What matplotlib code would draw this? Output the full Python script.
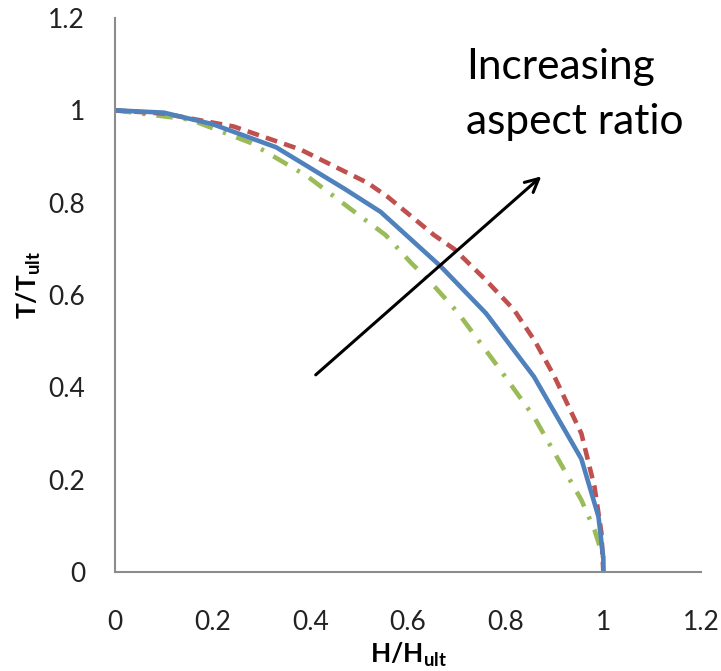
import matplotlib
matplotlib.use("Agg")
import matplotlib.pyplot as plt

# curves (H/Hult, T/Tult)
h_blue = [0, 0.1, 0.2, 0.33, 0.47, 0.544, 0.667, 0.76, 0.858, 0.955, 0.99, 1.0, 1.0]
t_blue = [1, 0.995, 0.97, 0.92, 0.83, 0.78, 0.662, 0.56, 0.423, 0.245, 0.12, 0.03, 0]

h_red = [0, 0.1, 0.243, 0.38, 0.517, 0.558, 0.653, 0.694, 0.757, 0.817, 0.86,
         0.9, 0.955, 0.982, 0.996, 1.0]
t_red = [1, 0.993, 0.965, 0.915, 0.843, 0.813, 0.73, 0.70, 0.635, 0.568, 0.5,
         0.423, 0.30, 0.184, 0.085, 0]

h_green = [0, 0.154, 0.277, 0.394, 0.503, 0.554, 0.606, 0.647, 0.702, 0.784,
           0.858, 0.92, 0.955, 0.982, 1.0]
t_green = [1, 0.98, 0.93, 0.857, 0.77, 0.73, 0.67, 0.627, 0.562, 0.445,
           0.336, 0.221, 0.156, 0.091, 0.03]

xticks = [0, 0.2, 0.4, 0.6, 0.8, 1, 1.2]
yticks = [0, 0.2, 0.4, 0.6, 0.8, 1, 1.2]
tick_labels = ["0", "0.2", "0.4", "0.6", "0.8", "1", "1.2"]

plt.rcParams['font.family'] = ['Lato', 'DejaVu Sans']
plt.rcParams['mathtext.fontset'] = 'custom'
plt.rcParams['mathtext.rm'] = 'Lato'
plt.rcParams['mathtext.bf'] = 'Lato:bold'

fig = plt.figure(figsize=(7.21, 6.71), dpi=100)
ax = fig.add_axes([115/721, 1 - 572/671, 586/721, 554/671])

ax.plot(h_green, t_green, color="#9BBB59", lw=3.3,
        linestyle=(0, (3.6, 2.4, 0.7, 2.4)))
ax.plot(h_red, t_red, color="#C0504D", lw=3.3, linestyle=(0, (2.6, 1.6)))
ax.plot(h_blue, t_blue, color="#4F81BD", lw=3.3)

ax.annotate("", xy=(0.873, 0.857), xytext=(0.411, 0.427),
            arrowprops=dict(arrowstyle="->", color="black", lw=2.2,
                            mutation_scale=24, shrinkA=0, shrinkB=0))
ax.text(0.719, 1.067, "Increasing", fontsize=30.5, ha="left", va="baseline")
ax.text(0.719, 0.948, "aspect ratio", fontsize=30.5, ha="left", va="baseline")

ax.set_xlim(0, 1.2)
ax.set_ylim(0, 1.2)
ax.set_xticks(xticks)
ax.set_xticklabels(tick_labels)
ax.set_yticks(yticks)
ax.set_yticklabels(tick_labels)
ax.tick_params(length=0, labelsize=19, colors="#222222")
ax.tick_params(axis="x", pad=27)
ax.tick_params(axis="y", pad=21.5)

for s in ["top", "right"]:
    ax.spines[s].set_visible(False)
for s in ["left", "bottom"]:
    ax.spines[s].set_color("#8C8C8C")
    ax.spines[s].set_linewidth(1.5)

ax.set_xlabel(r"$\mathbf{H/H_{ult}}$", fontsize=19)
ax.set_ylabel(r"$\mathbf{T/T_{ult}}$", fontsize=19)
ax.xaxis.label.set_va("center")
ax.yaxis.label.set_va("center")
ax.xaxis.set_label_coords((409 - 115) / 586, (572 - 655) / 554)
ax.yaxis.set_label_coords((29 - 115) / 586, (572 - 285) / 554)

fig.savefig("out.png", dpi=100)
